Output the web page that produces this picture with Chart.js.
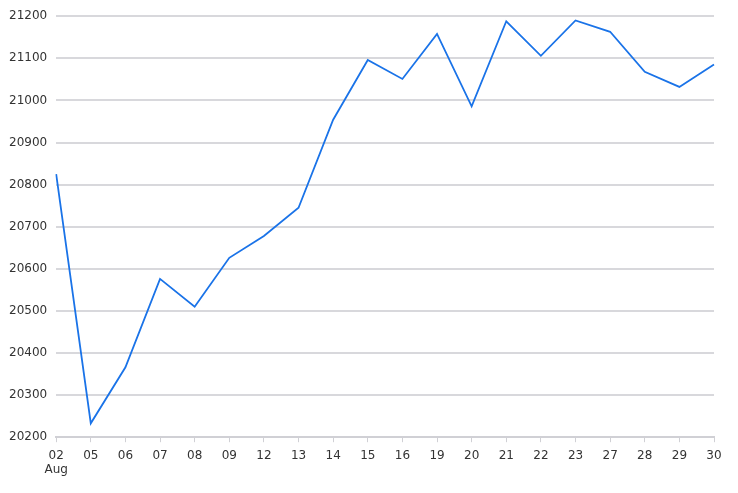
<!DOCTYPE html>
<html>
<head>
<meta charset="utf-8">
<script src="https://cdn.jsdelivr.net/npm/chart.js@4"></script>
<style>
    html, body { margin: 0; padding: 0; background: #fff; }
    #wrap { width: 738px; height: 493px; }
</style>
</head>
<body>
<div id="wrap"><canvas id="priceChart"></canvas></div>
<script>
// dữ liệu
const days = ['02', '05', '06', '07', '08', '09', '12', '13', '14', '15', '16', '19', '20', '21', '22', '23', '27', '28', '29', '30'];
const monthName = 'Aug';
const prices = [20825, 20233, 20366, 20576, 20510, 20626, 20678, 20745, 20954, 21096, 21051, 21158, 20986, 21188, 21106, 21190, 21163, 21068, 21032, 21085];
const yTicks = [20200, 20300, 20400, 20500, 20600, 20700, 20800, 20900, 21000, 21100, 21200];

// nhãn trục x, ngày đầu có thêm tháng
const labels = days.map((d, i) => i === 0 ? [d, monthName] : d);

const ctx = document.getElementById('priceChart').getContext('2d');
new Chart(ctx, {
    type: 'line',
    data: {
        labels: labels,
        datasets: [{
            data: prices,
            borderColor: '#1a73e8',
            borderWidth: 1.8,
            pointRadius: 0,
            fill: false,
            tension: 0
        }]
    },
    options: {
        responsive: true,
        maintainAspectRatio: false,
        animation: false,
        layout: {
            padding: { top: 12, right: 24, left: 0, bottom: 10 }
        },
        plugins: {
            legend: { display: false },
            tooltip: { enabled: false }
        },
        scales: {
            x: {
                offset: false,
                grid: {
                    display: true,
                    drawOnChartArea: false,
                    drawTicks: true,
                    tickLength: 5,
                    color: '#d0d0d5',
                    lineWidth: 1
                },
                border: { display: true, color: '#d0d0d5', width: 2 },
                ticks: {
                    color: '#333',
                    font: { family: 'DejaVu Sans', size: 12 },
                    maxRotation: 0,
                    autoSkip: false,
                    padding: 6
                }
            },
            y: {
                min: yTicks[0],
                max: yTicks[yTicks.length - 1],
                afterBuildTicks: axis => {
                    axis.ticks = yTicks.map(v => ({ value: v }));
                },
                grid: {
                    color: '#d8d8dc',
                    lineWidth: 2,
                    drawTicks: false
                },
                border: { display: false },
                ticks: {
                    color: '#333',
                    font: { family: 'DejaVu Sans', size: 12 },
                    padding: 9,
                    callback: v => String(v)
                }
            }
        }
    }
});
</script>
</body>
</html>
